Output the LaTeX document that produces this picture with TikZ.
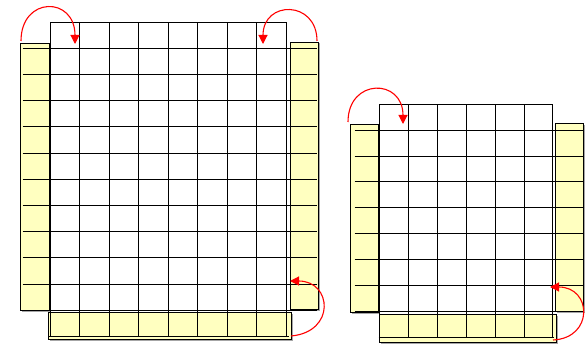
\documentclass[tikz,border=0pt]{standalone}
\usetikzlibrary{arrows.meta}
\definecolor{stripyellow}{RGB}{255,255,192}
\begin{document}
\begin{tikzpicture}[x=1pt,y=-1pt,
  strip/.style={fill=stripyellow,draw=black,line width=1.5pt},
  stripshadow/.style={fill=black!35,draw=none},
  gridline/.style={draw=black,line width=1.5pt},
  movearrow/.style={draw=red,line width=1.1pt,-{Triangle[length=9pt,width=9pt]}}]
\useasboundingbox (0,0) rectangle (585,347);
% ---------- left figure ----------
\fill[stripshadow] (21.5,44.5) rectangle (50.5,311.5);
\fill[stripshadow] (291.5,43.5) rectangle (319.5,310.5);
\fill[stripshadow] (49.5,313.5) rectangle (292.5,340.5);
\draw[strip] (20.5,43.5) rectangle (49.5,310.5);
\draw[strip] (290.5,42.5) rectangle (318.5,309.5);
\draw[strip] (48.5,312.5) rectangle (291.5,339.5);
\foreach \x in {50.5,79.5,109.5,138.5,168.5,197.5,227.5,256.5,286.5}
  \draw[gridline] (\x,22.5) -- (\x,336.5);
\foreach \y in {48.5,74.5,100.5,126.5,153.5,179.5,205.5,231.5,257.5,284.5,310.5}
  \draw[gridline] (22.5,\y) -- (316.5,\y);
\draw[gridline] (50.5,22.5) -- (286.5,22.5);
\draw[gridline] (48.5,336.5) -- (288.5,336.5);
\coordinate (a1s) at (21,41);
\coordinate (a1e) at (75,44);
\coordinate (a2s) at (317,41);
\coordinate (a2e) at (263,44);
\coordinate (a3s) at (291,336);
\coordinate (a3e) at (290,281);
\draw[movearrow] (a1s) .. controls (21,-4) and (75,-4) .. (a1e);
\draw[movearrow] (a2s) .. controls (317,0) and (263,0) .. (a2e);
\draw[movearrow] (a3s) .. controls (336,332) and (332,281) .. (a3e);
% ---------- right figure ----------
\fill[stripshadow] (351.5,126) rectangle (380,314);
\fill[stripshadow] (557,125) rectangle (585,312.5);
\fill[stripshadow] (381,316) rectangle (558,343.5);
\draw[strip] (350.5,124.5) rectangle (378.5,312.5);
\draw[strip] (555.5,123.5) rectangle (583.5,311.5);
\draw[strip] (379.5,314.5) rectangle (556.5,342.5);
\foreach \x in {379.5,408.5,437.5,466.5,495.5,524.5,552.5}
  \draw[gridline] (\x,104.5) -- (\x,337.5);
\foreach \y in {130.5,156.5,181.5,207.5,233.5,259.5,285.5,311.5}
  \draw[gridline] (354.5,\y) -- (582.5,\y);
\draw[gridline] (379.5,104.5) -- (552.5,104.5);
\draw[gridline] (378.5,337.5) -- (553.5,337.5);
\coordinate (b1s) at (348,122);
\coordinate (b1e) at (403,124);
\coordinate (b2s) at (553,340);
\coordinate (b2e) at (550,287);
\draw[movearrow] (b1s) .. controls (348,78) and (403,78) .. (b1e);
\draw[movearrow] (b2s) .. controls (594,338) and (592,287) .. (b2e);
\end{tikzpicture}
\end{document}
